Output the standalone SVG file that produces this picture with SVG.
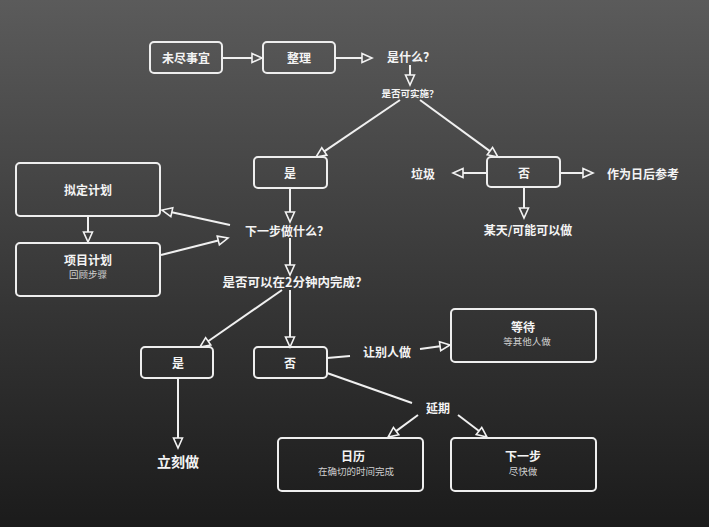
<svg xmlns="http://www.w3.org/2000/svg" width="709" height="527" viewBox="0 0 709 527">
<defs>
<linearGradient id="bg" x1="0" y1="0" x2="0" y2="1">
<stop offset="0" stop-color="#5b5b5b"/>
<stop offset="0.6" stop-color="#343434"/>
<stop offset="1" stop-color="#1b1b1b"/>
</linearGradient>
<marker id="ah" markerUnits="userSpaceOnUse" markerWidth="14" markerHeight="14" refX="1" refY="7" orient="auto" overflow="visible">
<path d="M1,2.5 L11,7 L1,11.5 Z" fill="none" stroke="#f2f2f2" stroke-width="1.6" stroke-linejoin="miter"/>
</marker>
<style>
.box{fill:none;stroke:#eeeeee;stroke-width:2;}
.t{font-family:"Noto Sans CJK SC","Liberation Sans",sans-serif;font-weight:bold;fill:#f4f4f4;text-anchor:middle;dominant-baseline:central;font-size:12px;}
.s{font-family:"Noto Sans CJK SC","Liberation Sans",sans-serif;fill:#cfcfcf;text-anchor:middle;dominant-baseline:central;font-size:9.5px;}
.c line,.c path{stroke:#f0f0f0;stroke-width:2;fill:none;}
.a{marker-end:url(#ah);}
</style>
</defs>
<rect x="0" y="0" width="709" height="527" fill="url(#bg)"/>

<g class="c" id="connectors">
<line class="a" x1="222" y1="58" x2="252" y2="58"/>
<line class="a" x1="335" y1="58" x2="362" y2="58"/>
<line class="a" x1="410" y1="65" x2="410" y2="75"/>
<line class="a" x1="400" y1="100" x2="324.3" y2="151.4"/>
<line class="a" x1="420" y1="100" x2="489.9" y2="151.1"/>
<line class="a" x1="487" y1="173" x2="463" y2="173"/>
<line class="a" x1="560" y1="173" x2="583" y2="173"/>
<line class="a" x1="524" y1="187" x2="524" y2="208"/>
<line class="a" x1="290" y1="188" x2="290" y2="212"/>
<line class="a" x1="230" y1="225" x2="171.8" y2="212.2"/>
<line class="a" x1="161" y1="255" x2="218.3" y2="240.5"/>
<line class="a" x1="88" y1="216" x2="88" y2="232"/>
<line class="a" x1="290" y1="238" x2="290" y2="265"/>
<line class="a" x1="282" y1="290" x2="208.2" y2="341.3"/>
<line class="a" x1="290" y1="290" x2="290" y2="337"/>
<line x1="327" y1="358" x2="350" y2="356"/>
<line class="a" x1="420" y1="349" x2="440.1" y2="346.3"/>
<line x1="327" y1="373" x2="412" y2="403"/>
<line class="a" x1="418" y1="415" x2="396.1" y2="431.1"/>
<line class="a" x1="458" y1="415" x2="479" y2="431"/>
<line class="a" x1="178" y1="378" x2="178" y2="438"/>
</g>

<g id="n-weijin"><rect class="box" x="150" y="42" width="72" height="31" rx="4"/><text class="t" x="186" y="57">未尽事宜</text></g>
<g id="n-zhengli"><rect class="box" x="263" y="42" width="72" height="31" rx="4"/><text class="t" x="299" y="57">整理</text></g>
<g id="n-shishenme"><text class="t" x="411" y="56">是什么？</text></g>
<g id="n-kesheshi"><text class="t" x="410" y="93" style="font-size:9.5px">是否可实施？</text></g>
<g id="n-shi1"><rect class="box" x="254" y="157" width="73" height="31" rx="4"/><text class="t" x="290" y="172">是</text></g>
<g id="n-fou1"><rect class="box" x="487" y="157" width="73" height="30" rx="4"/><text class="t" x="524" y="172">否</text></g>
<g id="n-laji"><text class="t" x="423" y="173">垃圾</text></g>
<g id="n-cankao"><text class="t" x="643" y="173">作为日后参考</text></g>
<g id="n-moutian"><text class="t" x="528" y="229">某天/可能可以做</text></g>
<g id="n-niding"><rect class="box" x="16" y="163" width="144" height="53" rx="4"/><text class="t" x="88" y="189">拟定计划</text></g>
<g id="n-xiangmu"><rect class="box" x="16" y="243" width="144" height="53" rx="4"/><text class="t" x="88" y="259">项目计划</text><text class="s" x="88" y="274">回顾步骤</text></g>
<g id="n-xiayibu"><text class="t" x="287" y="230">下一步做什么？</text></g>
<g id="n-liangfen"><text class="t" x="295" y="281" style="font-size:12.5px">是否可以在2分钟内完成？</text></g>
<g id="n-shi2"><rect class="box" x="141" y="347" width="72" height="31" rx="4"/><text class="t" x="178" y="362">是</text></g>
<g id="n-fou2"><rect class="box" x="254" y="347" width="73" height="31" rx="4"/><text class="t" x="290" y="362">否</text></g>
<g id="n-rang"><text class="t" x="387" y="351">让别人做</text></g>
<g id="n-dengdai"><rect class="box" x="451" y="309" width="145" height="53" rx="4"/><text class="t" x="523" y="326">等待</text><text class="s" x="527" y="341">等其他人做</text></g>
<g id="n-yanqi"><text class="t" x="438" y="407">延期</text></g>
<g id="n-like"><text class="t" x="178" y="461" style="font-size:14px">立刻做</text></g>
<g id="n-rili"><rect class="box" x="278" y="438" width="145" height="53" rx="4"/><text class="t" x="353" y="455">日历</text><text class="s" x="356" y="471">在确切的时间完成</text></g>
<g id="n-xiayibu2"><rect class="box" x="451" y="438" width="145" height="53" rx="4"/><text class="t" x="523" y="455">下一步</text><text class="s" x="523" y="471">尽快做</text></g>
</svg>
